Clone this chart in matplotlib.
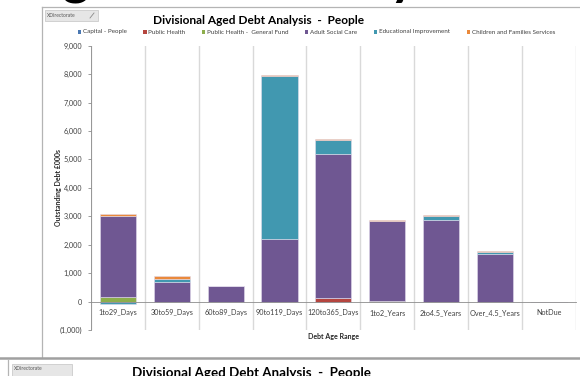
import matplotlib
matplotlib.use("Agg")
import matplotlib.pyplot as plt
import matplotlib.patches as patches
from matplotlib.lines import Line2D
from matplotlib.ticker import FuncFormatter
import numpy as np

# data (Outstanding Debt, £000s)
categories = ["1to29_Days", "30to59_Days", "60to89_Days", "90to119_Days", "120to365_Days",
              "1to2_Years", "2to4.5_Years", "Over_4.5_Years", "NotDue"]
series_names = ["Capital - People", "Public Health", "Public Health -  General Fund",
                "Adult Social Care", "Educational Improvement", "Children and Families Services"]
capital_people = [-15, 0, 0, 0, 0, 0, 0, 0, 0]
public_health = [0, 0, 0, 0, 140, 0, 0, 0, 0]
public_health_gf = [165, 0, 0, 0, 0, 25, 0, 0, 0]
adult_social_care = [2860, 705, 540, 2195, 5045, 2810, 2885, 1690, 0]
educational_improvement = [-55, 95, 0, 5750, 490, 0, 120, 50, 0]
children_families = [60, 92, 20, 15, 35, 46, 35, 35, 0]
y_ticks = [-1000, 0, 1000, 2000, 3000, 4000, 5000, 6000, 7000, 8000, 9000]

series_values = [capital_people, public_health, public_health_gf,
                 adult_social_care, educational_improvement, children_families]
series_colors = ["#4A78B2", "#B5453F", "#8DAE4C", "#6F5792", "#4198B0", "#EA893B"]

W, H = 580, 376
FONT = "Lato"


def fx(x):
    return x / W


def fy(y):
    return 1 - y / H


fig = plt.figure(figsize=(W / 100, H / 100), dpi=100)
fig.patch.set_facecolor("white")
renderer = fig.canvas.get_renderer()

# page heading, cut off at the top of the screenshot (only descenders show);
# measured so the 'g' starts near x=63 and only the descenders are left in view
head_kw = dict(fontsize=37, fontweight="bold", family=FONT, color="black", va="baseline")
probe = fig.text(0, 0.5, "A", **head_kw)
a_w = probe.get_window_extent(renderer).width
probe.remove()
heading = fig.text(fx(63 - a_w), 0.5, "Aged Debt Analysis", ha="left", **head_kw)
bb = heading.get_window_extent(renderer)
heading.set_y(0.5 + ((H - 3) - bb.y0) / H)

# chart frame lines
fig.add_artist(Line2D([fx(42), fx(580)], [fy(7), fy(7)], color="#B4B4B4", lw=0.9))
fig.add_artist(Line2D([fx(42), fx(42)], [fy(7), fy(358)], color="#B4B4B4", lw=0.9))
fig.add_artist(Line2D([fx(0), fx(580)], [fy(358), fy(358)], color="#A0A0A0", lw=1.8))
fig.add_artist(Line2D([fx(8), fx(8)], [fy(360), fy(376)], color="#B4B4B4", lw=0.9))

# slicer buttons
for (x0, y0, x1, y1) in [(45, 10, 98, 21), (12, 364, 72, 380)]:
    fig.add_artist(patches.Rectangle((fx(x0), fy(y1)), fx(x1 - x0), (y1 - y0) / H,
                                     facecolor="#E6E6E6", edgecolor="#C4C4C4", lw=0.5))
fig.text(fx(47), fy(15.5), "XDirectorate", fontsize=3.6, family=FONT, color="#555555",
         ha="left", va="center")
fig.add_artist(Line2D([fx(90), fx(94)], [fy(18), fy(13)], color="#8A8A8A", lw=0.6))
fig.text(fx(14), fy(369), "XDirectorate", fontsize=3.6, family=FONT, color="#555555",
         ha="left", va="center")

# titles
fig.text(fx(259), fy(20), "Divisional Aged Debt Analysis  -  People", fontsize=8.6,
         fontweight="bold", family=FONT, ha="center", va="center", color="black")
fig.text(fx(251), fy(373), "Divisional Aged Debt Analysis  -  People", fontsize=9.6,
         fontweight="bold", family=FONT, ha="center", va="center", color="black")

# plot area
ax = fig.add_axes([fx(91), fy(330), fx(575.7 - 91), (330 - 45.7) / H])
x = np.arange(len(categories))
pos_bottom = np.zeros(len(categories))
neg_bottom = np.zeros(len(categories))
for name, vals, col in zip(series_names, series_values, series_colors):
    vals = np.array(vals, dtype=float)
    bottom = np.where(vals >= 0, pos_bottom, neg_bottom)
    ax.bar(x, vals, bottom=bottom, width=0.67, color=col, edgecolor="#E2DCEC",
           linewidth=0.4, label=name, zorder=3)
    pos_bottom += np.where(vals >= 0, vals, 0)
    neg_bottom += np.where(vals < 0, vals, 0)

ax.set_xlim(-0.5, len(categories) - 0.5)
ax.set_ylim(-1000, 9000)
ax.set_yticks(y_ticks)
ax.yaxis.set_major_formatter(FuncFormatter(
    lambda v, p: f"({abs(int(v)):,})" if v < 0 else f"{int(v):,}"))

for b in np.arange(-0.5, len(categories), 1.0):
    ax.axvline(b, color="#D9D9D9", lw=1.0, zorder=1)

for s in ["top", "right"]:
    ax.spines[s].set_visible(False)
ax.spines["left"].set_color("#8C8C8C")
ax.spines["left"].set_linewidth(0.6)
ax.spines["bottom"].set_position(("data", 0))
ax.spines["bottom"].set_color("#8C8C8C")
ax.spines["bottom"].set_linewidth(0.6)
ax.spines["bottom"].set_zorder(4)

ax.set_xticks(x)
ax.set_xticklabels(categories)
ax.tick_params(axis="x", length=0, pad=5.5, labelsize=5.2, labelcolor="#404040")
ax.tick_params(axis="y", length=2.5, width=0.6, color="#8C8C8C", pad=4,
               labelsize=5.2, labelcolor="#404040")
for lbl in ax.get_xticklabels() + ax.get_yticklabels():
    lbl.set_family(FONT)

fig.text(fx(334), fy(337), "Debt Age Range", fontsize=5, fontweight="bold", family=FONT,
         ha="center", va="center", color="#262626")
fig.text(fx(58), fy(188), "Outstanding Debt £000s", fontsize=5, fontweight="bold",
         family=FONT, ha="center", va="center", rotation=90, color="#262626")

# legend row laid out by hand, as in the screenshot
leg_texts = []
for name in series_names:
    t = fig.text(0, fy(32), name, fontsize=4.5, family=FONT, color="#404040",
                 ha="left", va="center")
    leg_texts.append(t)
widths = [t.get_window_extent(renderer).width for t in leg_texts]
sq, sq_gap = 3.2, 1.8
left_px, right_px = 78, 555
used = sum(widths) + len(widths) * (sq + sq_gap)
gap = (right_px - left_px - used) / (len(widths) - 1)
cur = left_px
for t, w, col in zip(leg_texts, widths, series_colors):
    fig.add_artist(patches.Rectangle((fx(cur), fy(32 + sq / 2)), fx(sq), sq / H,
                                     facecolor=col, edgecolor="none"))
    t.set_x(fx(cur + sq + sq_gap))
    cur += sq + sq_gap + w + gap

fig.savefig("out.png", dpi=100, facecolor="white")
